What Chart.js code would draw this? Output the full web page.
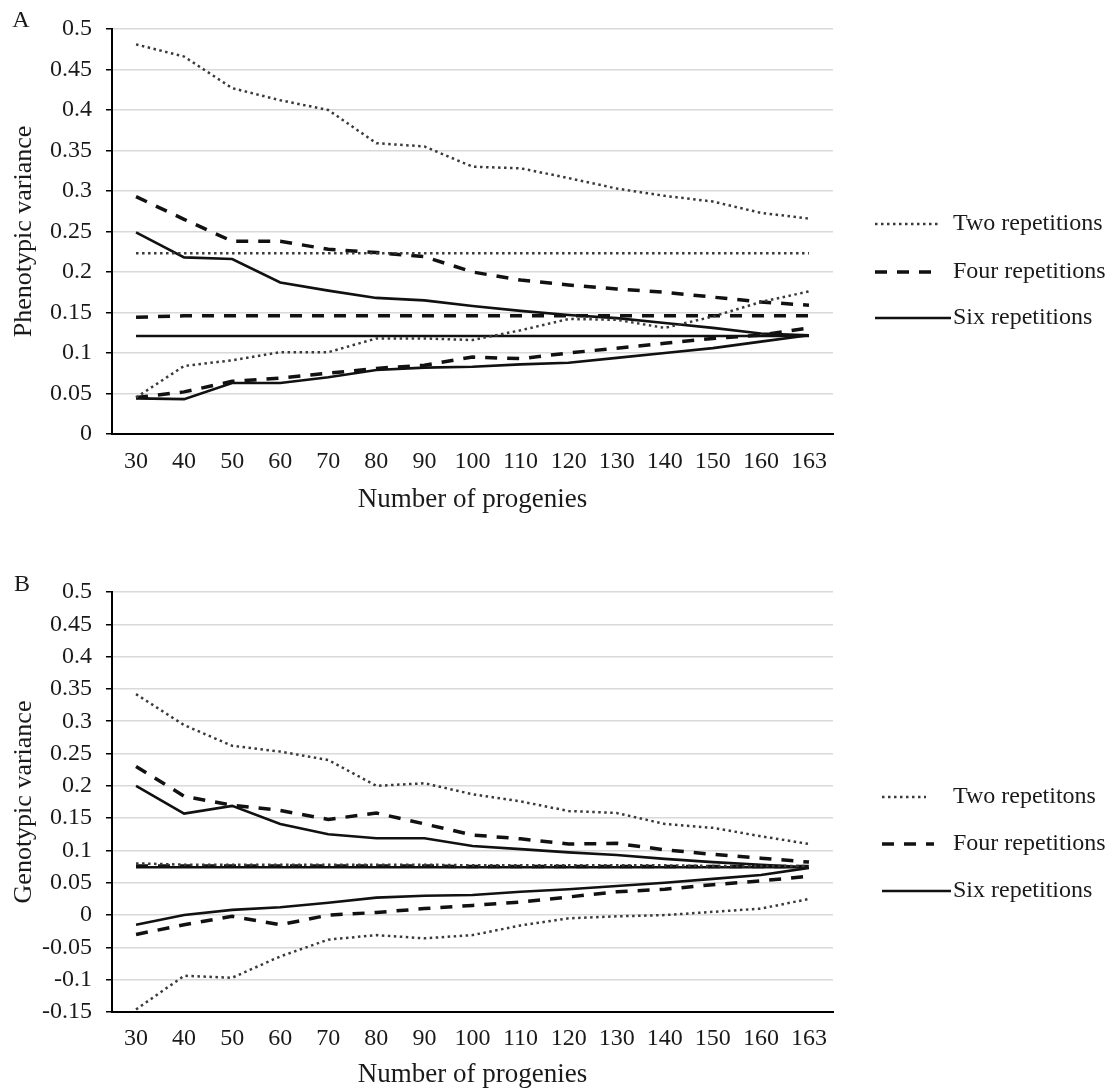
<!DOCTYPE html>
<html><head><meta charset="utf-8">
<script src="https://cdn.jsdelivr.net/npm/chart.js@4.4.1/dist/chart.umd.min.js"></script>
<style>html,body{margin:0;padding:0;background:#fff;}canvas{display:block;}</style>
</head><body>
<canvas id="ca" width="1116" height="545"></canvas>
<canvas id="cb" width="1116" height="546"></canvas>
<script>
// ---------- DATA ----------
const categories = ['30','40','50','60','70','80','90','100','110','120','130','140','150','160','163'];

// Panel A: Phenotypic variance
const twoUpA   = [0.481,0.466,0.427,0.412,0.400,0.359,0.355,0.330,0.328,0.316,0.303,0.294,0.287,0.273,0.266];
const twoMeanA = [0.223,0.223,0.223,0.223,0.223,0.223,0.223,0.223,0.223,0.223,0.223,0.223,0.223,0.223,0.223];
const twoLowA  = [0.045,0.084,0.091,0.101,0.101,0.118,0.118,0.116,0.128,0.142,0.141,0.131,0.145,0.163,0.176];
const fourUpA   = [0.293,0.265,0.238,0.238,0.228,0.224,0.219,0.200,0.190,0.184,0.179,0.175,0.169,0.163,0.159];
const fourMeanA = [0.144,0.146,0.146,0.146,0.146,0.146,0.146,0.146,0.146,0.146,0.146,0.146,0.146,0.146,0.146];
const fourLowA  = [0.045,0.052,0.065,0.069,0.075,0.081,0.085,0.095,0.093,0.100,0.106,0.112,0.118,0.122,0.131];
const sixUpA   = [0.249,0.218,0.216,0.187,0.177,0.168,0.165,0.158,0.152,0.147,0.143,0.137,0.131,0.124,0.122];
const sixMeanA = [0.121,0.121,0.121,0.121,0.121,0.121,0.121,0.121,0.121,0.121,0.121,0.121,0.121,0.121,0.121];
const sixLowA  = [0.044,0.043,0.063,0.063,0.070,0.079,0.082,0.083,0.086,0.088,0.094,0.100,0.106,0.114,0.122];

// Panel B: Genotypic variance
const twoUpB   = [0.342,0.294,0.262,0.253,0.240,0.200,0.204,0.187,0.176,0.161,0.158,0.141,0.135,0.122,0.110];
const twoMeanB = [0.080,0.078,0.078,0.078,0.078,0.078,0.078,0.077,0.077,0.077,0.077,0.077,0.076,0.076,0.076];
const twoLowB  = [-0.146,-0.094,-0.097,-0.064,-0.038,-0.031,-0.036,-0.031,-0.016,-0.005,-0.002,0.000,0.005,0.010,0.025];
const fourUpB   = [0.230,0.184,0.170,0.162,0.148,0.158,0.141,0.124,0.118,0.110,0.111,0.101,0.094,0.088,0.082];
const fourMeanB = [0.076,0.076,0.076,0.076,0.076,0.076,0.076,0.075,0.075,0.075,0.075,0.075,0.075,0.075,0.075];
const fourLowB  = [-0.030,-0.015,-0.002,-0.015,0.000,0.004,0.010,0.015,0.020,0.028,0.036,0.040,0.047,0.053,0.060];
const sixUpB   = [0.200,0.157,0.169,0.141,0.125,0.119,0.119,0.107,0.102,0.097,0.093,0.087,0.082,0.078,0.074];
const sixMeanB = [0.074,0.074,0.074,0.074,0.074,0.074,0.074,0.074,0.074,0.074,0.074,0.074,0.074,0.074,0.074];
const sixLowB  = [-0.015,0.000,0.008,0.012,0.019,0.027,0.030,0.031,0.036,0.040,0.045,0.050,0.056,0.062,0.073];

const yTicksA = ['0','0.05','0.1','0.15','0.2','0.25','0.3','0.35','0.4','0.45','0.5'];
const yTicksB = ['-0.15','-0.1','-0.05','0','0.05','0.1','0.15','0.2','0.25','0.3','0.35','0.4','0.45','0.5'];
const legendLabelsA = ['Two repetitions','Four repetitions','Six repetitions'];
const legendLabelsB = ['Two repetitons','Four repetitions','Six repetitions'];

// ---------- STYLE ----------
const FONT = "'Liberation Serif','Times New Roman',serif";
const TXT = '#1a1a1a';
Chart.defaults.font.family = FONT;
Chart.defaults.color = TXT;

const styleTwo  = {borderColor:'#3a3a3a', borderWidth:2.5, borderDash:[2.5,3.5]};
const styleFour = {borderColor:'#111111', borderWidth:3.5, borderDash:[12,10]};
const styleSix  = {borderColor:'#111111', borderWidth:2.6, borderDash:[]};

function ds(label, data, st){
  return Object.assign({label, data, fill:false, tension:0, pointRadius:0, pointHoverRadius:0, borderCapStyle:'butt', borderJoinStyle:'miter'}, st);
}

const overlayPlugin = {
  id:'overlay',
  afterDraw(chart, args, o){
    const ctx = chart.ctx;
    ctx.save();
    ctx.fillStyle = TXT;
    ctx.textBaseline = 'middle';
    ctx.textAlign = 'center';
    ctx.font = '24px ' + FONT;
    ctx.fillText(o.panel, o.panelX, o.panelY);
    o.items.forEach(it => {
      const d = chart.data.datasets[it.ds];
      ctx.strokeStyle = d.borderColor;
      ctx.lineWidth = d.borderWidth;
      ctx.setLineDash(d.borderDash || []);
      ctx.beginPath(); ctx.moveTo(it.x0, it.y); ctx.lineTo(it.x1, it.y); ctx.stroke();
      ctx.setLineDash([]);
      ctx.textAlign = 'left';
      ctx.fillText(it.label, o.textX, it.y);
    });
    ctx.restore();
  }
};

function makeChart(id, sets, yMin, yMax, yLabels, yTitle, cfg){
  return new Chart(document.getElementById(id), {
    type:'line',
    data:{labels:categories, datasets:sets},
    plugins:[overlayPlugin],
    options:{
      responsive:false, animation:false, devicePixelRatio:1,
      layout:{padding:{left:0, top:cfg.top, right:283, bottom:0}},
      plugins:{legend:{display:false}, tooltip:{enabled:false}, overlay:cfg.overlay},
      scales:{
        x:{
          type:'category', offset:true,
          grid:{display:false, drawTicks:false},
          border:{display:true, color:'#000', width:2},
          ticks:{autoSkip:false, maxRotation:0, minRotation:0, padding:cfg.xPad, color:TXT, font:{size:24}},
          title:{display:true, text:'Number of progenies', color:TXT, font:{size:27}, padding:{top:0, bottom:cfg.xTitlePad}},
          afterFit(s){ s.height = cfg.xHeight; }
        },
        y:{
          min:yMin, max:yMax,
          ticks:{stepSize:0.05, padding:14, color:TXT, font:{size:24},
            callback:(v)=>{ const t = yLabels.find(l => Math.abs(parseFloat(l)-v) < 1e-6); return t === undefined ? '' : t; }},
          grid:{color:'#d9d9d9', lineWidth:1.5, tickColor:'#000', tickLength:6, tickWidth:1.5},
          border:{display:true, color:'#000', width:2},
          title:{display:true, text:yTitle, color:TXT, font:{size:26}, padding:{top:9, bottom:0}},
          afterFit(s){ s.width = 112; }
        }
      }
    }
  });
}

makeChart('ca', [
  ds(legendLabelsA[0], twoUpA, styleTwo), ds(legendLabelsA[0], twoMeanA, styleTwo), ds(legendLabelsA[0], twoLowA, styleTwo),
  ds(legendLabelsA[1], fourUpA, styleFour), ds(legendLabelsA[1], fourMeanA, styleFour), ds(legendLabelsA[1], fourLowA, styleFour),
  ds(legendLabelsA[2], sixUpA, styleSix), ds(legendLabelsA[2], sixMeanA, styleSix), ds(legendLabelsA[2], sixLowA, styleSix)
], 0, 0.5, yTicksA, 'Phenotypic variance', {
  top:29, xHeight:111, xPad:13, xTitlePad:29,
  overlay:{panel:'A', panelX:21, panelY:21, textX:953, items:[
    {ds:0, label:legendLabelsA[0], x0:875, x1:938, y:224},
    {ds:3, label:legendLabelsA[1], x0:875, x1:938, y:272},
    {ds:6, label:legendLabelsA[2], x0:875, x1:951, y:318}
  ]}
});

makeChart('cb', [
  ds(legendLabelsB[0], twoUpB, styleTwo), ds(legendLabelsB[0], twoMeanB, styleTwo), ds(legendLabelsB[0], twoLowB, styleTwo),
  ds(legendLabelsB[1], fourUpB, styleFour), ds(legendLabelsB[1], fourMeanB, styleFour), ds(legendLabelsB[1], fourLowB, styleFour),
  ds(legendLabelsB[2], sixUpB, styleSix), ds(legendLabelsB[2], sixMeanB, styleSix), ds(legendLabelsB[2], sixLowB, styleSix)
], -0.15, 0.5, yTicksB, 'Genotypic variance', {
  top:47, xHeight:79, xPad:12, xTitlePad:0,
  overlay:{panel:'B', panelX:22, panelY:40, textX:953, items:[
    {ds:0, label:legendLabelsB[0], x0:882, x1:926, y:252},
    {ds:3, label:legendLabelsB[1], x0:882, x1:934, y:299},
    {ds:6, label:legendLabelsB[2], x0:882, x1:951, y:346}
  ]}
});
</script>
</body></html>
